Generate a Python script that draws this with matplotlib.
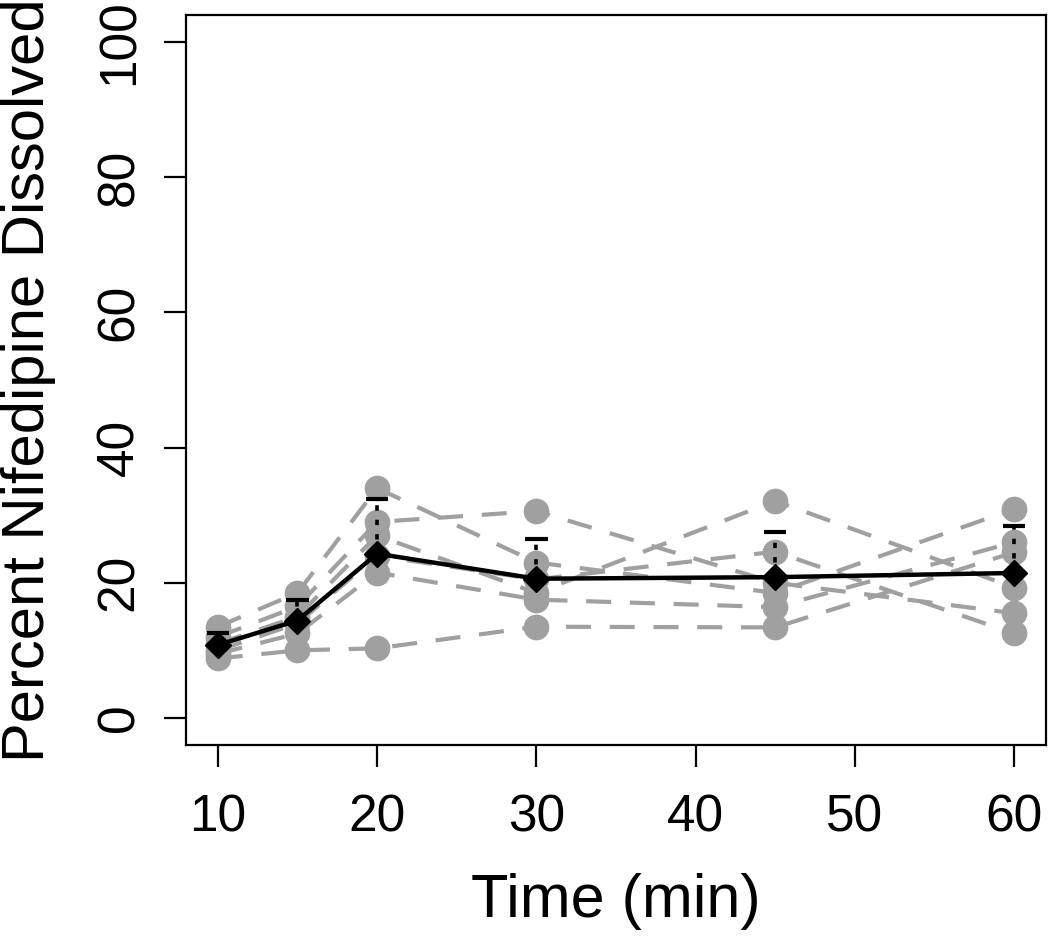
import numpy as np
import matplotlib
matplotlib.use("Agg")
import matplotlib.pyplot as plt

plt.rcParams['font.family'] = ['Liberation Sans', 'DejaVu Sans']

times = [10, 15, 20, 30, 45, 60]
subject_1 = [13.5, 18.5, 34.0, 23.0, 18.5, 30.9]
subject_2 = [12.0, 16.5, 29.0, 30.6, 20.0, 15.5]
subject_3 = [11.0, 15.0, 27.0, 18.5, 32.1, 19.3]
subject_4 = [10.0, 14.0, 24.0, 20.5, 24.6, 12.5]
subject_5 = [9.5, 12.5, 21.5, 17.5, 16.4, 26.0]
subject_6 = [8.8, 10.0, 10.3, 13.5, 13.4, 24.5]
subjects = [subject_1, subject_2, subject_3, subject_4, subject_5, subject_6]

xticks = [10, 20, 30, 40, 50, 60]
yticks = [0, 20, 40, 60, 80, 100]

data = np.array(subjects)
mean = data.mean(axis=0)
sd = data.std(axis=0, ddof=1)

fig = plt.figure(figsize=(10.5, 9.36), dpi=100)
ax = fig.add_axes([186/1050, 1-745/936, (1046-186)/1050, (745-15)/936])

grey = '#a0a0a0'
for s in subjects:
    ax.plot(times, s, color=grey, lw=3.0, ls=(0, (6, 4.5)), marker='o',
            ms=17.5, mec=grey, mfc=grey, zorder=2)

# upper SD bars
for t, m, d in zip(times, mean, sd):
    ax.plot([t, t], [m, m + d], color='black', lw=2.6, ls=(0, (1.5, 2.5)), zorder=3)
    ax.plot([t - 0.7, t + 0.7], [m + d, m + d], color='black', lw=3.0,
            solid_capstyle='butt', zorder=3)

ax.plot(times, mean, color='black', lw=3.2, marker='D', ms=13.5,
        mfc='black', mec='black', zorder=4)

ax.set_xlim(8, 62)
ax.set_ylim(-4, 104)
ax.set_xticks(xticks)
ax.set_yticks(yticks)
ax.tick_params(axis='both', length=16, width=1.6, labelsize=37)
ax.tick_params(axis='x', pad=19)
ax.tick_params(axis='y', pad=14)
for lab in ax.get_yticklabels():
    lab.set_rotation(90)
    lab.set_va('center')
for sp in ax.spines.values():
    sp.set_linewidth(1.6)

ax.set_xlabel('Time (min)', fontsize=44, labelpad=22)
ax.set_ylabel('Percent Nifedipine Dissolved', fontsize=43, labelpad=28)

fig.savefig('out.png', dpi=100)
